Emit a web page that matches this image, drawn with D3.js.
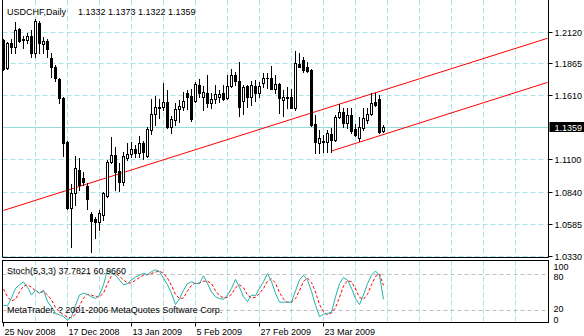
<!DOCTYPE html>
<html>
<head>
<meta charset="utf-8">
<script src="https://cdn.jsdelivr.net/npm/d3@7"></script>
<style>
  body { margin: 0; background: #fff; }
  svg { display: block; }
  text { font-family: "Liberation Sans", Arial, sans-serif; font-size: 9px; fill: #000; }
</style>
</head>
<body>
<svg id="chart" width="584" height="336"></svg>
<script>
// USDCHF daily candles, 25 Nov 2008 onward
const opens = [
  1.2056, 1.1832, 1.2032, 1.2000, 1.2144, 1.2064, 1.2056, 1.2088, 1.1952, 1.2194,
  1.2024, 1.2050, 1.1912, 1.1843, 1.1742, 1.1590, 1.1243, 1.0716, 1.0831, 1.1017,
  1.0953, 1.0889, 1.0666, 1.0622, 1.0599, 1.0658, 1.0810, 1.1084, 1.1135, 1.1007,
  1.0924, 1.1111, 1.1145, 1.1183, 1.1155, 1.1235, 1.1132, 1.1337, 1.1462, 1.1507,
  1.1523, 1.1558, 1.1363, 1.1417, 1.1507, 1.1523, 1.1635, 1.1609, 1.1571, 1.1694,
  1.1598, 1.1630, 1.1555, 1.1582, 1.1598, 1.1630, 1.1590, 1.1688, 1.1774, 1.1731,
  1.1571, 1.1688, 1.1598, 1.1688, 1.1635, 1.1710, 1.1742, 1.1750, 1.1667, 1.1704,
  1.1577, 1.1587, 1.1598, 1.1513, 1.1864, 1.1896, 1.1838, 1.1816, 1.1385, 1.1231,
  1.1231, 1.1243, 1.1305, 1.1257, 1.1438, 1.1483, 1.1390, 1.1457, 1.1342, 1.1275,
  1.1350, 1.1417, 1.1465, 1.1563, 1.1582, 1.1332
];
const highs = [
  1.2064, 1.2040, 1.2064, 1.2196, 1.2152, 1.2088, 1.2112, 1.2136, 1.2224, 1.2208,
  1.2082, 1.2064, 1.1956, 1.1856, 1.1750, 1.1598, 1.1249, 1.0905, 1.1132, 1.1113,
  1.1001, 1.0913, 1.0682, 1.0644, 1.0698, 1.0844, 1.1097, 1.1279, 1.1203, 1.1076,
  1.1159, 1.1235, 1.1243, 1.1217, 1.1289, 1.1249, 1.1358, 1.1582, 1.1609, 1.1582,
  1.1715, 1.1657, 1.1449, 1.1555, 1.1577, 1.1643, 1.1657, 1.1662, 1.1723, 1.1742,
  1.1688, 1.1776, 1.1630, 1.1696, 1.1657, 1.1696, 1.1776, 1.1822, 1.1803, 1.1878,
  1.1696, 1.1696, 1.1731, 1.1736, 1.1723, 1.1795, 1.1790, 1.1848, 1.1776, 1.1715,
  1.1657, 1.1680, 1.1662, 1.1968, 1.1955, 1.1923, 1.1880, 1.1824, 1.1457, 1.1337,
  1.1297, 1.1337, 1.1350, 1.1457, 1.1545, 1.1510, 1.1510, 1.1510, 1.1385, 1.1443,
  1.1510, 1.1510, 1.1630, 1.1635, 1.1617, 1.1373
];
const lows = [
  1.1816, 1.1824, 1.1952, 1.1956, 1.2040, 1.1992, 1.2032, 1.1924, 1.1924, 1.1952,
  1.1952, 1.1924, 1.1764, 1.1732, 1.1555, 1.1132, 1.0708, 1.0402, 1.0738, 1.0857,
  1.0897, 1.0706, 1.0364, 1.0476, 1.0538, 1.0618, 1.0802, 1.1071, 1.0857, 1.0852,
  1.0897, 1.1097, 1.1124, 1.1124, 1.1124, 1.1103, 1.1119, 1.1305, 1.1377, 1.1430,
  1.1497, 1.1350, 1.1315, 1.1377, 1.1403, 1.1497, 1.1502, 1.1409, 1.1563, 1.1598,
  1.1497, 1.1518, 1.1510, 1.1555, 1.1563, 1.1577, 1.1582, 1.1678, 1.1697, 1.1449,
  1.1465, 1.1523, 1.1537, 1.1571, 1.1598, 1.1683, 1.1670, 1.1662, 1.1635, 1.1475,
  1.1449, 1.1510, 1.1510, 1.1497, 1.1838, 1.1803, 1.1800, 1.1369, 1.1155, 1.1155,
  1.1163, 1.1163, 1.1163, 1.1251, 1.1430, 1.1363, 1.1350, 1.1315, 1.1289, 1.1251,
  1.1337, 1.1395, 1.1457, 1.1529, 1.1315, 1.1322
];
const closes = [
  1.1828, 1.2032, 1.2000, 1.2136, 1.2050, 1.2048, 1.2088, 1.1952, 1.2210, 1.2032,
  1.2048, 1.1984, 1.1840, 1.1752, 1.1590, 1.1235, 1.0716, 1.0836, 1.1031, 1.0897,
  1.0921, 1.0785, 1.0612, 1.0599, 1.0671, 1.0831, 1.1084, 1.1135, 1.1004, 1.0924,
  1.1129, 1.1145, 1.1183, 1.1151, 1.1235, 1.1163, 1.1345, 1.1462, 1.1523, 1.1523,
  1.1558, 1.1363, 1.1427, 1.1507, 1.1529, 1.1571, 1.1603, 1.1422, 1.1704, 1.1635,
  1.1638, 1.1555, 1.1585, 1.1622, 1.1622, 1.1585, 1.1688, 1.1774, 1.1731, 1.1523,
  1.1683, 1.1598, 1.1696, 1.1635, 1.1688, 1.1750, 1.1755, 1.1667, 1.1704, 1.1590,
  1.1597, 1.1603, 1.1515, 1.1875, 1.1843, 1.1816, 1.1811, 1.1377, 1.1241, 1.1275,
  1.1249, 1.1310, 1.1257, 1.1438, 1.1483, 1.1390, 1.1457, 1.1331, 1.1297, 1.1363,
  1.1430, 1.1465, 1.1555, 1.1537, 1.1323, 1.1359
];

// Stochastic oscillator (5,3,3): main %K and signal %D
const stochK = [
  28, 27, 40, 56, 62, 67, 58, 45, 53, 48,
  53, 34, 25, 14, 12, 9, 3, 9, 28, 45,
  48, 46, 42, 39, 45, 62, 87, 81, 78, 70,
  62, 64, 70, 75, 78, 81, 79, 84, 87, 84,
  73, 62, 48, 29, 39, 53, 64, 67, 64, 64,
  77, 64, 50, 42, 39, 38, 45, 56, 71, 58,
  42, 34, 45, 44, 56, 67, 81, 67, 48, 33,
  33, 33, 33, 52, 70, 78, 70, 51, 28, 9,
  13, 14.5, 16, 42, 64, 74, 70, 56, 39, 29,
  45, 64, 78, 85, 77, 37.7821
];
const stochD = [
  55, 42, 35, 38, 50, 60, 62, 58, 52, 48,
  51, 45, 37, 24, 17, 12, 8, 7, 13, 27,
  40, 46, 45, 42, 42, 48, 64, 77, 82, 76,
  70, 65, 65, 70, 74, 78, 79, 81, 83, 85,
  81, 73, 61, 46, 39, 40, 52, 61, 65, 65,
  68, 68, 64, 52, 44, 40, 41, 46, 57, 62,
  57, 45, 40, 41, 48, 56, 68, 72, 65, 49,
  38, 33, 33, 39, 52, 68, 73, 66, 50, 29,
  17, 12, 15, 24, 41, 60, 69, 67, 55, 41,
  38, 46, 62, 76, 80, 60.9660
];

const priceTicks = [1.2120, 1.1865, 1.1610, 1.1355, 1.1100, 1.0840, 1.0585, 1.0330];
const priceTickLabels = ["1.2120", "1.1865", "1.1610", "", "1.1100", "1.0840", "1.0585", "1.0330"];
const dateTickBars = [0, 16, 32, 48, 64, 80];
const dateTickLabels = ["25 Nov 2008", "17 Dec 2008", "13 Jan 2009", "5 Feb 2009", "27 Feb 2009", "23 Mar 2009"];
const gridBars = [8, 16, 24, 32, 40, 48, 56, 64, 72, 80, 88, 96, 104, 112, 120, 128];
const stochLevels = [80, 20];
const stochScaleLabels = ["100", "80", "20", "0"];
// trend channel anchor points: [bar index, price]
const channelUpper = [[0, 1.0694], [77, 1.1473]];
const channelLower = [[82, 1.1169], [95, 1.1301]];

const symbol = "USDCHF,Daily";
const stochName = "Stoch(5,3,3)";
const footer = "MetaTrader, ? 2001-2006 MetaQuotes Software Corp.";

const svg = d3.select("#chart");
const gridColor = "#a4e4e6";
const fmt = d3.format(".4f");

// Panels
const main = { left: 2.5, right: 548.5, top: 0, bottom: 257.5 };
const ind = { top: 260.5, bottom: 322.5 };

const x = d3.scaleLinear().domain([0, 136]).range([3.5, 547.5]);
const y = d3.scaleLinear().domain([1.0330, 1.2120]).range([256, 32]);
const ys = d3.scaleLinear().domain([0, 100]).range([322, 262]);
const px = v => Math.floor(v) + 0.5;

const n = closes.length;
const bars = d3.range(n).map(i => ({ i, o: opens[i], h: highs[i], l: lows[i], c: closes[i] }));

// clip regions for the two panels
const defs = svg.append("defs");
defs.append("clipPath").attr("id", "mainClip").append("rect")
  .attr("x", main.left).attr("y", 0).attr("width", main.right - main.left).attr("height", main.bottom);
defs.append("clipPath").attr("id", "indClip").append("rect")
  .attr("x", main.left).attr("y", ind.top).attr("width", main.right - main.left).attr("height", ind.bottom - ind.top);

// ---- main panel grid ----
const gMain = svg.append("g").attr("clip-path", "url(#mainClip)");
gMain.selectAll("line.hgrid").data(priceTicks).join("line")
  .attr("x1", main.left).attr("x2", main.right)
  .attr("y1", d => px(y(d))).attr("y2", d => px(y(d)))
  .attr("stroke", gridColor).attr("stroke-dasharray", "5,3");
gMain.selectAll("line.vgrid").data(gridBars).join("line")
  .attr("x1", d => x(d)).attr("x2", d => x(d))
  .attr("y1", 0).attr("y2", main.bottom)
  .attr("stroke", gridColor).attr("stroke-dasharray", "5,3");

// bid line
const lastClose = closes[n - 1];
gMain.append("line")
  .attr("x1", main.left).attr("x2", main.right)
  .attr("y1", px(y(lastClose))).attr("y2", px(y(lastClose)))
  .attr("stroke", "#92dcdc");

// channel lines, extended to the right edge
function ray(pts) {
  const [[b0, p0], [b1, p1]] = pts;
  const slope = (p1 - p0) / (b1 - b0);
  const bEnd = x.domain()[1];
  return [[x(b0), y(p0)], [x(bEnd), y(p0 + slope * (bEnd - b0))]];
}
[channelUpper, channelLower].forEach(pts => {
  const r = ray(pts);
  gMain.append("line")
    .attr("x1", r[0][0]).attr("y1", r[0][1]).attr("x2", r[1][0]).attr("y2", r[1][1])
    .attr("stroke", "#ff0000").attr("stroke-width", 1);
});

// candles
gMain.selectAll("line.wick").data(bars).join("line")
  .attr("x1", d => x(d.i)).attr("x2", d => x(d.i))
  .attr("y1", d => Math.round(y(d.h))).attr("y2", d => Math.round(y(d.l)) + 1)
  .attr("stroke", "#000");
gMain.selectAll("rect.body").data(bars).join("rect")
  .each(function (d) {
    const top = Math.round(y(Math.max(d.o, d.c)));
    const bot = Math.round(y(Math.min(d.o, d.c)));
    const h = Math.max(1, bot - top);
    const sel = d3.select(this);
    if (d.c < d.o || h <= 2) {
      sel.attr("x", x(d.i) - 1.5).attr("y", top).attr("width", 3).attr("height", Math.max(1, h + (h <= 2 ? 0 : 1)))
        .attr("fill", "#000");
    } else {
      sel.attr("x", x(d.i) - 1).attr("y", top + 0.5).attr("width", 2).attr("height", h)
        .attr("fill", "#fff").attr("stroke", "#000");
    }
  });

// ---- indicator panel ----
const gInd = svg.append("g").attr("clip-path", "url(#indClip)");
gInd.selectAll("line.vgrid").data(gridBars).join("line")
  .attr("x1", d => x(d)).attr("x2", d => x(d))
  .attr("y1", ind.top).attr("y2", ind.bottom)
  .attr("stroke", gridColor).attr("stroke-dasharray", "5,3");
gInd.selectAll("line.level").data(stochLevels).join("line")
  .attr("x1", main.left).attr("x2", main.right)
  .attr("y1", d => px(ys(d))).attr("y2", d => px(ys(d)))
  .attr("stroke", "#c0c0c0").attr("stroke-dasharray", "4,3");

const stochLine = d3.line().x((d, i) => x(i)).y(d => ys(d));
gInd.append("path").datum(stochD).attr("d", stochLine)
  .attr("fill", "none").attr("stroke", "#ff0000").attr("stroke-dasharray", "3,2");
gInd.append("path").datum(stochK).attr("d", stochLine)
  .attr("fill", "none").attr("stroke", "#20b2aa");

// ---- frames ----
svg.append("path")
  .attr("d", `M${main.left},0V${main.bottom}H${main.right}V0`)
  .attr("fill", "none").attr("stroke", "#000");
svg.append("rect")
  .attr("x", main.left).attr("y", ind.top)
  .attr("width", main.right - main.left).attr("height", ind.bottom - ind.top)
  .attr("fill", "none").attr("stroke", "#000");

// ---- price axis ----
const axisX = main.right;
priceTicks.forEach((p, k) => {
  if (!priceTickLabels[k]) return;
  const yy = px(y(p));
  svg.append("line").attr("x1", axisX).attr("x2", axisX + 4).attr("y1", yy).attr("y2", yy).attr("stroke", "#000");
  svg.append("text").attr("x", axisX + 6).attr("y", yy + 3).text(priceTickLabels[k]);
});
// current price marker
const by = y(lastClose);
svg.append("rect").attr("x", axisX + 1).attr("y", Math.round(by) - 5).attr("width", 35).attr("height", 10).attr("fill", "#000");
svg.append("text").attr("x", axisX + 6).attr("y", Math.round(by) + 3.5).style("fill", "#fff").text(fmt(lastClose));

// stochastic scale, stacked so neighbouring labels stay apart
const stochLabelY = [269.5, 279.5, 312, 323];
stochScaleLabels.forEach((t, k) => {
  svg.append("text").attr("x", axisX + 5).attr("y", stochLabelY[k]).text(t);
});

// ---- date axis ----
dateTickBars.forEach((b, k) => {
  svg.append("line").attr("x1", x(b)).attr("x2", x(b)).attr("y1", ind.bottom).attr("y2", ind.bottom + 4).attr("stroke", "#000");
  svg.append("text").attr("x", Math.max(3, x(b) + 1)).attr("y", 334.5).text(dateTickLabels[k]);
});

// ---- captions ----
svg.append("text").attr("x", 7).attr("y", 15).text(symbol);
const last = bars[n - 1];
svg.append("text").attr("x", 78).attr("y", 15)
  .text([last.o, last.h, last.l, last.c].map(fmt).join(" "));
svg.append("text").attr("x", 7).attr("y", 274)
  .text(`${stochName} ${fmt(stochK[n - 1])} ${fmt(stochD[n - 1])}`);
svg.append("text").attr("x", 7).attr("y", 313).text(footer);
</script>
</body>
</html>
